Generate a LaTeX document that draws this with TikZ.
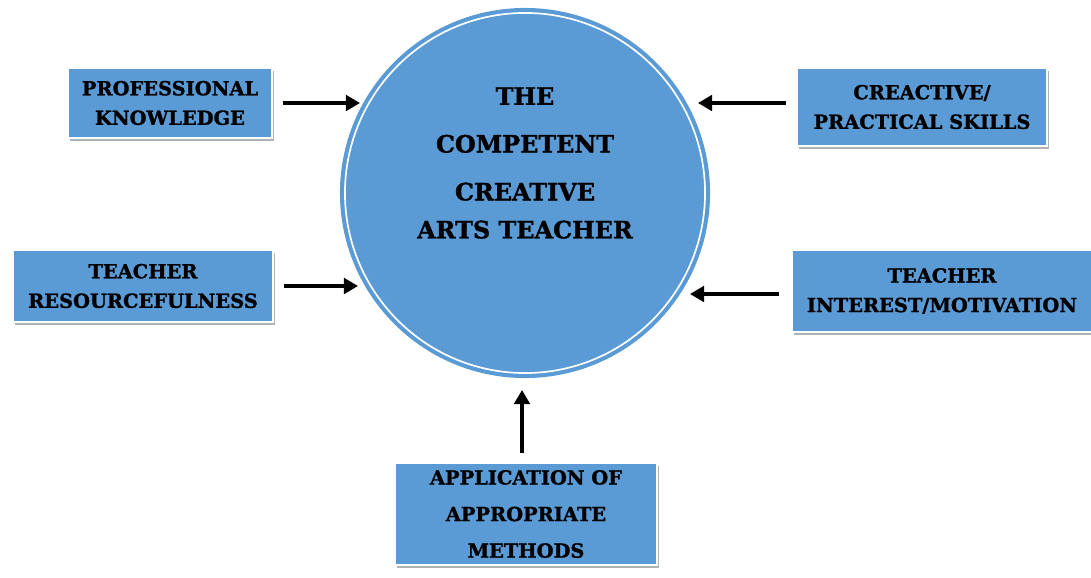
\documentclass[tikz,border=0pt]{standalone}
\usepackage{fontspec}
\setmainfont{DejaVu Serif}
\newfontfamily\heavy{DejaVu Serif Bold}[FakeBold=1.3]
\usetikzlibrary{positioning,arrows.meta,shadows}
\definecolor{boxblue}{HTML}{5B9BD5}

\tikzset{
  factor/.style={rectangle, fill=boxblue, draw=white, line width=2pt, align=center,
    inner sep=0pt, font=\heavy\fontsize{13.8}{21}\selectfont,
    drop shadow={shadow xshift=1.5pt, shadow yshift=-2pt, fill=gray!60, opacity=1}},
  push/.style={-{Triangle[length=10pt,width=11pt]}, line width=2.8pt},
}

\begin{document}
\begin{tikzpicture}[x=0.025cm,y=-0.025cm]
\useasboundingbox (0,0) rectangle (1091,578);

% the teacher in the middle
\node[circle, fill=boxblue, minimum size=9.25cm, inner sep=0pt] (hub) at (525,193) {};
\node[circle, draw=white, line width=1.2pt, minimum size=9cm, inner sep=0pt] (ring) at (hub) {};
\node[align=center, font=\heavy\fontsize{17}{27}\selectfont] (title) at (525,163)
  {THE\\[7pt] COMPETENT\\[7pt] CREATIVE\\ ARTS TEACHER};

% factors
\node[factor, minimum width=5.1cm, minimum height=1.75cm] (pk) at (170,103) {PROFESSIONAL\\ KNOWLEDGE};
\node[factor, minimum width=6.25cm, minimum height=1.95cm] (cs) at (922,107) {CREACTIVE/\\ PRACTICAL SKILLS};
\node[factor, minimum width=6.5cm, minimum height=1.8cm] (tr) at (143,286) {TEACHER\\ RESOURCEFULNESS};
\node[factor, minimum width=7.5cm, minimum height=2.05cm] (tm) at (942,291) {TEACHER\\ INTEREST/MOTIVATION};
\node[factor, minimum width=6.55cm, minimum height=2.55cm, font=\heavy\fontsize{13.8}{26}\selectfont]
  (am) at (526,514) {APPLICATION OF\\ APPROPRIATE\\ METHODS};

% arrow ends at the circle
\coordinate (in-pk) at (360,103);
\coordinate (in-cs) at (698,103);
\coordinate (in-tr) at (358,286);
\coordinate (in-tm) at (690,294);
\coordinate (in-am) at (522,390);

\draw[push, shorten <=6.5pt] (pk.east |- in-pk) -- (in-pk);
\draw[push, shorten <=7pt] (cs.west |- in-cs) -- (in-cs);
\draw[push, shorten <=7pt] (tr.east |- in-tr) -- (in-tr);
\draw[push, shorten <=8pt] (tm.west |- in-tm) -- (in-tm);
\draw[push, shorten <=6pt] (am.north -| in-am) -- (in-am);
\end{tikzpicture}
\end{document}
